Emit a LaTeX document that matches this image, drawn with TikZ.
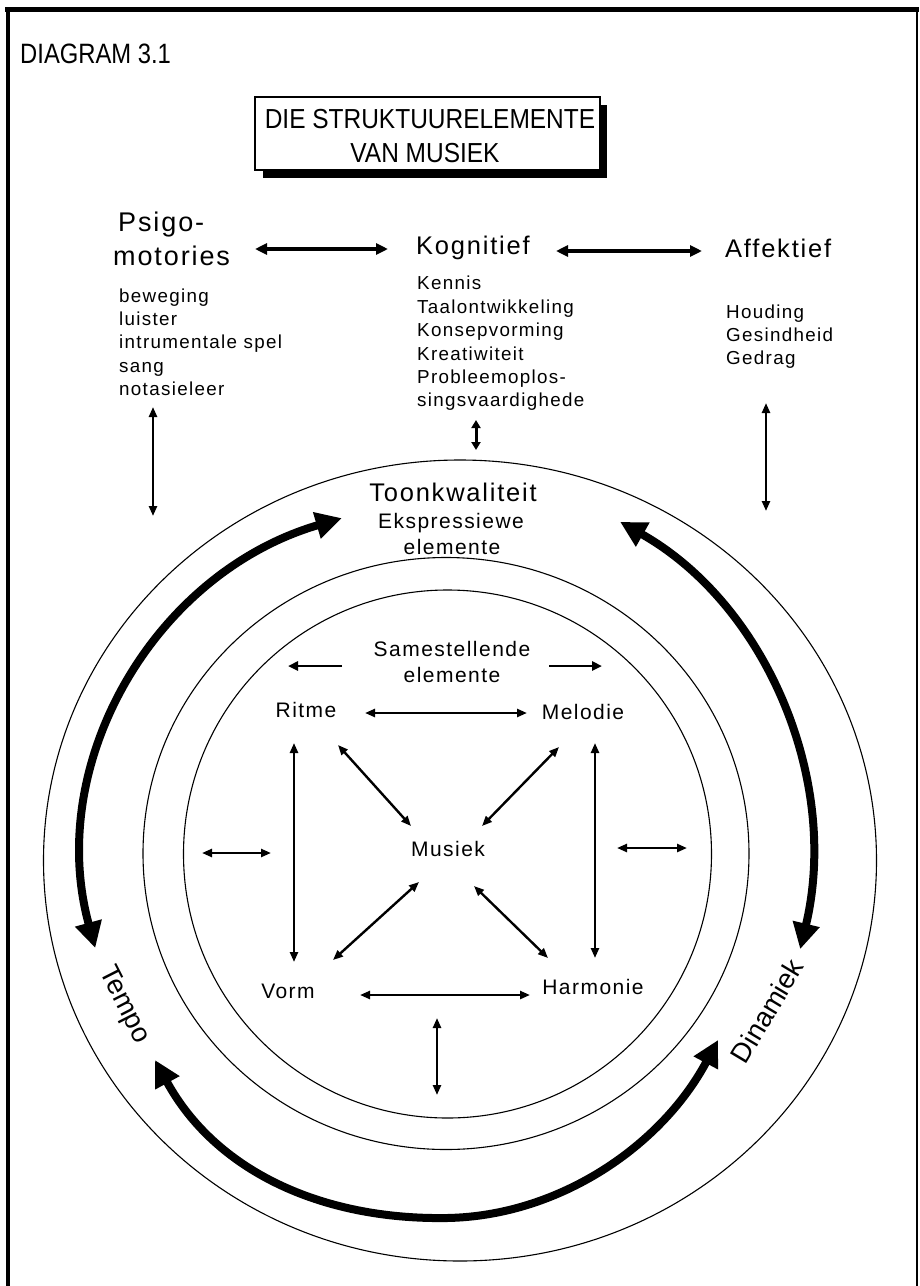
\documentclass[tikz,border=0pt]{standalone}
\usepackage{graphicx}
\usepackage{fontspec}
\setmainfont{Liberation Sans}[LetterSpace=7]
\newfontfamily\capsfont{Liberation Sans}
\usetikzlibrary{arrows.meta}
\newcommand{\narrow}[2]{\scalebox{#1}[1]{#2}}
\begin{document}
\begin{tikzpicture}[x=1pt,y=-1pt,
  lbl/.style={inner sep=0pt},
  head/.style={lbl, anchor=west, font=\fontsize{25.5}{30}\selectfont},
  elem/.style={lbl, font=\fontsize{21}{24}\selectfont},
  item/.style={lbl, anchor=base west, font=\fontsize{18.8}{20}\selectfont},
  ringlabel/.style={lbl, font=\capsfont\fontsize{27.5}{30}\selectfont},
  ring/.style={line width=1.1pt},
  band/.style={line width=8pt, {Triangle[length=26pt,width=26pt]}-{Triangle[length=26pt,width=26pt]}},
  toplink/.style={line width=3.5pt, {Triangle[length=12pt,width=11pt]}-{Triangle[length=12pt,width=11pt]}},
  link/.style={line width=2.4pt, {Triangle[length=10pt,width=8pt]}-{Triangle[length=10pt,width=8pt]}},
  onelink/.style={line width=2.8pt, -{Triangle[length=10pt,width=9pt]}},
]
\useasboundingbox (0,0) rectangle (919,1286);

% frame
\draw[line width=5pt] (5,9) -- (919,9);
\draw[line width=4pt] (8,9) -- (8,1290);
\draw[line width=2pt] (917,9) -- (917,1290);

% heading and title
\node[lbl, anchor=west, font=\capsfont\fontsize{28}{30}\selectfont] (diag) at (20,54) {\narrow{0.85}{DIAGRAM 3.1}};
\fill (263,105) rectangle (607,178);
\draw[fill=white, line width=1.2pt] (255,97) rectangle (600,170);
\node[lbl, font=\capsfont\fontsize{27.5}{30}\selectfont] (title1) at (430,119) {\narrow{0.89}{DIE STRUKTUURELEMENTE}};
\node[lbl, font=\capsfont\fontsize{27.5}{30}\selectfont] (title2) at (425,153) {\narrow{0.89}{VAN MUSIEK}};

% the three domains
\node[head, font=\fontsize{27}{30}\selectfont] (psigo1) at (118,225) {Psigo-};
\node[head, font=\fontsize{27}{30}\selectfont] (psigo2) at (113,256) {motories};
\node[head] (kog) at (416,248) {Kognitief};
\node[head] (aff) at (725,248) {Affektief};
\coordinate (pk1) at (255,249); \coordinate (pk2) at (388,249);
\coordinate (ka1) at (556,251); \coordinate (ka2) at (702,251);
\draw[toplink] (pk1) -- (pk2);
\draw[toplink] (ka1) -- (ka2);

\foreach \t [count=\i] in {beweging, luister, intrumentale spel, sang, notasieleer}
  \node[item] (ps\i) at (119,{279+23.3*\i}) {\t};
\foreach \t [count=\i] in {Kennis, Taalontwikkeling, Konsepvorming, Kreatiwiteit, Probleemoplos-, singsvaardighede}
  \node[item] (kg\i) at (417,{266.5+23.4*\i}) {\t};
\foreach \t [count=\i] in {Houding, Gesindheid, Gedrag}
  \node[item] (af\i) at (726,{295+23*\i}) {\t};

% links from the domains into the rings
\coordinate (lv1) at (153,407); \coordinate (lv2) at (153,516);
\coordinate (kv1) at (476,420); \coordinate (kv2) at (476,450);
\coordinate (rv1) at (766,403); \coordinate (rv2) at (766,511);
\draw[link] (lv1) -- (lv2);
\draw[line width=3pt, {Triangle[length=8pt,width=9pt]}-{Triangle[length=8pt,width=9pt]}] (kv1) -- (kv2);
\draw[link] (rv1) -- (rv2);

% rings
\draw[ring] (460,860.5) ellipse [x radius=416.5, y radius=400.5];
\draw[ring] (446,853.5) ellipse [x radius=303, y radius=296];
\draw[ring] (447.5,854) ellipse [x radius=264, y radius=264];

% expressive elements band
\draw[band] ({447+364*cos(-106.8)},{857+354*sin(-106.8)}) arc[start angle=-106.8, end angle=-194.9, x radius=364, y radius=354];
\draw[band] ({447+364*cos(-61.6)},{857+381*sin(-61.6)}) arc[start angle=-61.6, end angle=14, x radius=364, y radius=381];
\coordinate (bb1) at (155,1060); \coordinate (bbm) at (447,1218); \coordinate (bb2) at (718,1040);
\draw[band] (bb1) .. controls (215,1170) and (320,1220) .. (bbm)
                  .. controls (560,1216) and (662,1145) .. (bb2);

\node[lbl, font=\fontsize{25.5}{30}\selectfont] (toon) at (453,492) {Toonkwaliteit};
\node[elem] (eks1) at (451,523) {Ekspressiewe};
\node[elem] (eks2) at (452,547) {elemente};
\node[ringlabel, rotate=-63] (tempo) at (124,1005) {Tempo};
\node[ringlabel, rotate=59] (dina) at (767,1011) {Dinamiek};

% constituent elements
\node[elem] (sam1) at (452,649) {Samestellende};
\node[elem] (sam2) at (452,675) {elemente};
\coordinate (sl1) at (342,666); \coordinate (sl2) at (288,666);
\coordinate (sr1) at (549,666); \coordinate (sr2) at (602,666);
\draw[onelink] (sl1) -- (sl2);
\draw[onelink] (sr1) -- (sr2);

\node[elem] (ritme) at (306,710) {Ritme};
\node[elem] (melodie) at (583,712) {Melodie};
\node[elem] (musiek) at (448,849) {Musiek};
\node[elem] (vorm) at (288,991) {Vorm};
\node[elem] (harm) at (593,987) {Harmonie};

\coordinate (rm1) at (365,713); \coordinate (rm2) at (527,713);
\coordinate (rv1) at (294,743); \coordinate (rv2) at (294,962);
\coordinate (mv1) at (595,743); \coordinate (mv2) at (595,958);
\coordinate (rd1) at (338,745); \coordinate (rd2) at (411,826);
\coordinate (md1) at (559,747); \coordinate (md2) at (482,826);
\coordinate (vd1) at (419,882); \coordinate (vd2) at (333,960);
\coordinate (hd1) at (474,886); \coordinate (hd2) at (548,958);
\coordinate (vh1) at (360,995); \coordinate (vh2) at (530,995);
\coordinate (bv1) at (437,1018); \coordinate (bv2) at (437,1095);
\coordinate (ls1) at (202,853); \coordinate (ls2) at (271,853);
\coordinate (rs1) at (617,848); \coordinate (rs2) at (687,848);
\foreach \a/\b in {rm1/rm2, rv1/rv2, mv1/mv2, rd1/rd2, md1/md2, vd1/vd2, hd1/hd2, vh1/vh2, bv1/bv2, ls1/ls2, rs1/rs2}
  \draw[link] (\a) -- (\b);
\end{tikzpicture}
\end{document}
